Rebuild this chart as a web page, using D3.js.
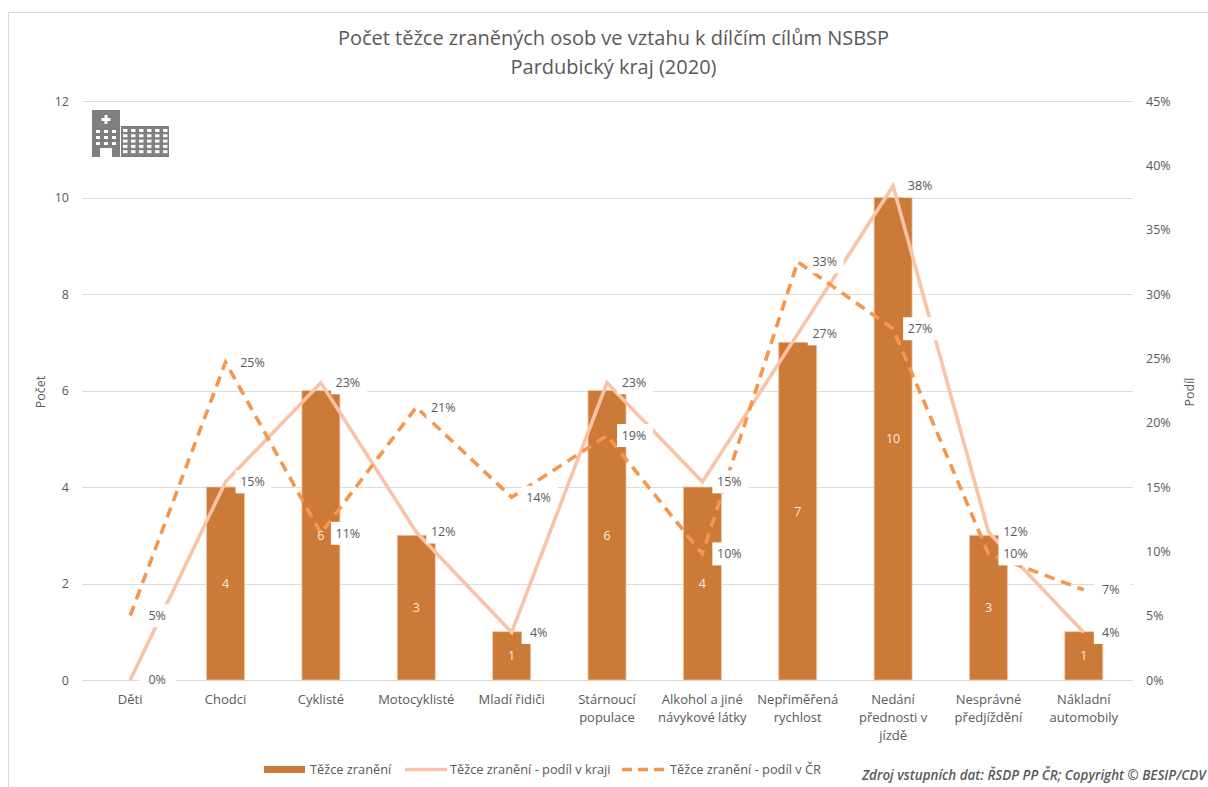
<!DOCTYPE html>
<html><head><meta charset="utf-8">
<script src="https://cdn.jsdelivr.net/npm/d3@7"></script>
<style>
html,body{margin:0;padding:0;background:#fff;overflow:hidden}
svg{display:block}
text{font-family:"Open Sans","Noto Sans",sans-serif;fill:#595959}
</style></head><body><svg id="c" width="1208" height="787"></svg>
<script>
const titleLines=["Počet těžce zraněných osob ve vztahu k dílčím cílům NSBSP","Pardubický kraj (2020)"];
const categories=["Děti","Chodci","Cyklisté","Motocyklisté","Mladí řidiči","Stárnoucí populace","Alkohol a jiné návykové látky","Nepřiměřená rychlost","Nedání přednosti v jízdě","Nesprávné předjíždění","Nákladní automobily"];
const categoryLines=[["Děti"],["Chodci"],["Cyklisté"],["Motocyklisté"],["Mladí řidiči"],["Stárnoucí","populace"],["Alkohol a jiné","návykové látky"],["Nepřiměřená","rychlost"],["Nedání","přednosti v","jízdě"],["Nesprávné","předjíždění"],["Nákladní","automobily"]];
const injured=[0,4,6,3,1,6,4,7,10,3,1];
const shareRegion=[0,0.154,0.231,0.115,0.037,0.231,0.154,0.269,0.384,0.115,0.037];
const shareCR=[0.05,0.247,0.114,0.212,0.142,0.19,0.098,0.325,0.273,0.098,0.07];
const leftTicks=[0,2,4,6,8,10,12];
const rightTicks=[0,.05,.1,.15,.2,.25,.3,.35,.4,.45];
const legendNames=["Těžce zranění","Těžce zranění - podíl v kraji","Těžce zranění - podíl v ČR"];
const sourceNote="Zdroj vstupních dat: ŘSDP PP ČR; Copyright © BESIP/CDV";

const barColor="#cb7a38",barEdge="#f3c4a4",solidColor="#fac3a6",dashColor="#f6964d",gridColor="#dcdcdc";
const svg=d3.select("#c");
const L=82.5,R=1131.5,T=101,B=680;
const x=d3.scaleBand().domain(categories).range([L,R]);
const cx=c=>x(c)+x.bandwidth()/2;
const y=d3.scaleLinear().domain([0,12]).range([B,T]);
const y2=d3.scaleLinear().domain([0,.45]).range([B,T]);

// frame
svg.append("path").attr("d","M8.5,787V12.5H1208").attr("fill","none").attr("stroke","#d9d9d9").attr("stroke-width",1);

// title
svg.append("g").selectAll("text").data(titleLines).join("text")
 .attr("x",613.5).attr("y",(d,i)=>45+i*29).attr("text-anchor","middle")
 .attr("font-size",20).text(d=>d);

// grid
svg.append("g").selectAll("line").data(leftTicks).join("line")
 .attr("x1",L).attr("x2",R+1.5).attr("y1",d=>Math.round(y(d))+.5).attr("y2",d=>Math.round(y(d))+.5)
 .attr("stroke",gridColor).attr("stroke-width",1.2);

// axes
const ax=svg.append("g").attr("transform",`translate(${L-13.5},0)`).call(d3.axisLeft(y).tickValues(leftTicks).tickSize(0).tickPadding(0).tickFormat(d3.format("d")));
const ax2=svg.append("g").attr("transform",`translate(${R+14.5},0)`).call(d3.axisRight(y2).tickValues(rightTicks).tickSize(0).tickPadding(0).tickFormat(d3.format(".0%")));
[ax,ax2].forEach(a=>{a.attr("font-family",null).attr("font-size",null);a.select(".domain").remove();a.selectAll("text").attr("font-size",12.5).attr("fill",null)});

// category labels
const cat=svg.append("g").selectAll("text").data(categories).join("text")
 .attr("text-anchor","middle").attr("font-size",13);
cat.each(function(c,i){
 d3.select(this).selectAll("tspan").data(categoryLines[i]).join("tspan")
  .attr("x",cx(c)).attr("y",(d,j)=>704+j*18).text(d=>d);
});

// axis titles
svg.append("text").attr("transform","translate(45,392) rotate(-90)").attr("text-anchor","middle").attr("font-size",12.5).text("Počet");
svg.append("text").attr("transform","translate(1194,392) rotate(-90)").attr("text-anchor","middle").attr("font-size",12.5).text("Podíl");

// bars
const barW=38;
svg.append("g").selectAll("rect").data(injured).join("rect")
 .attr("x",(d,i)=>cx(categories[i])-barW/2).attr("width",barW)
 .attr("y",d=>y(d)).attr("height",d=>y(0)-y(d))
 .attr("fill",barColor).attr("stroke",barEdge).attr("stroke-width",d=>d?0.8:0);

// lines
const line=d3.line().x((d,i)=>cx(categories[i])).y(d=>y2(d));
svg.append("path").datum(shareRegion).attr("d",line).attr("fill","none").attr("stroke",solidColor).attr("stroke-width",3.6);
svg.append("path").datum(shareCR).attr("d",line).attr("fill","none").attr("stroke",dashColor).attr("stroke-width",3.6).attr("stroke-dasharray","10.5 7");

// bar labels
const barLabels=svg.append("g");
injured.forEach((d,i)=>{ if(d>0) barLabels.append("text")
 .attr("x",cx(categories[i])).attr("y",(y(d)+y(0))/2).attr("dy","0.35em")
 .attr("text-anchor","middle").attr("font-size",12.5).style("fill","#fbeadd").text(d);});

// percentage labels with white plates
const pct=d3.format(".0%");
const plates=svg.append("g"),pctText=svg.append("g");
[shareRegion,shareCR].forEach(s=>s.forEach((v,i)=>{
 const px=cx(categories[i]),py=y2(v);
 plates.append("rect").attr("x",px+10).attr("y",py-11.5).attr("width",36).attr("height",23).attr("fill","#fff");
 pctText.append("text").attr("x",px+27).attr("y",py).attr("dy","0.35em").attr("text-anchor","middle").attr("font-size",12.5).text(pct(v));
}));

// legend
const lg=svg.append("g");
lg.append("rect").attr("x",264).attr("y",766).attr("width",41).attr("height",7).attr("fill",barColor);
lg.append("line").attr("x1",405).attr("x2",447).attr("y1",769.5).attr("y2",769.5).attr("stroke",solidColor).attr("stroke-width",3.6);
lg.append("line").attr("x1",622).attr("x2",664).attr("y1",769.5).attr("y2",769.5).attr("stroke",dashColor).attr("stroke-width",3.6).attr("stroke-dasharray","10 6");
[310,450,670].forEach((px,i)=>lg.append("text").attr("x",px).attr("y",773.5).attr("font-size",12.8).text(legendNames[i]));

// source
svg.append("text").attr("x",1206).attr("y",780).attr("text-anchor","end").attr("font-size",13.4).attr("font-style","italic").attr("font-weight",600).text(sourceNote);

// hospital icon
const ic=svg.append("g").attr("fill","#7f7f7f");
ic.append("rect").attr("x",92).attr("y",110).attr("width",28).attr("height",47);
ic.append("rect").attr("x",121).attr("y",126).attr("width",48).attr("height",31);
const w=svg.append("g").attr("fill","#fff");
w.append("rect").attr("x",104.5).attr("y",115).attr("width",3).attr("height",9);
w.append("rect").attr("x",101.5).attr("y",118).attr("width",9).attr("height",3);
w.append("rect").attr("x",100).attr("y",148).attr("width",12).attr("height",9);
d3.range(3).forEach(a=>d3.range(3).forEach(b=>w.append("rect").attr("x",96+a*8).attr("y",130+b*6).attr("width",4).attr("height",3)));
d3.range(6).forEach(a=>d3.range(5).forEach(b=>w.append("rect").attr("x",123+a*8).attr("y",129+b*5.3).attr("width",4.5).attr("height",3)));
</script></body></html>
